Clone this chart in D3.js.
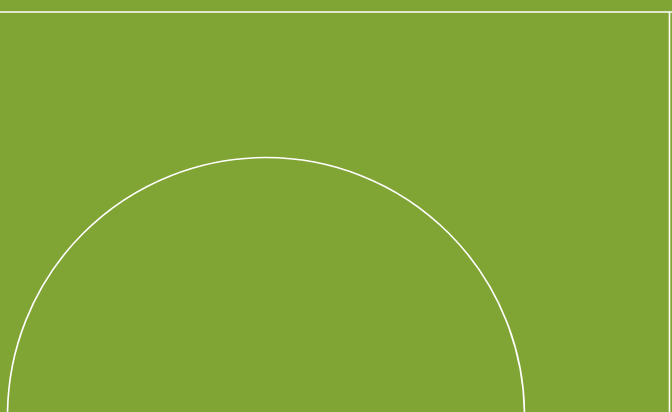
<!DOCTYPE html>
<html><head><meta charset="utf-8">
<script src="https://cdn.jsdelivr.net/npm/d3@7"></script>
<style>html,body{margin:0;padding:0;background:#81a535;overflow:hidden}</style>
</head><body>
<svg id="c" width="672" height="412"></svg>
<script>
// field extents (in field units)
const fieldX = [0, 672];
const fieldY = [0, 412];
// straight lines: [x1, y1, x2, y2]
const lineX1 = [0, 669.5];
const lineY1 = [12, 12];
const lineX2 = [672, 669.5];
const lineY2 = [12, 412];
// circle: centre and radius
const circleCx = [266];
const circleCy = [416];
const circleR = [258.5];

const W = 672, H = 412;
const x = d3.scaleLinear().domain(fieldX).range([0, W]);
const y = d3.scaleLinear().domain(fieldY).range([0, H]);
const svg = d3.select("#c");
svg.append("rect").attr("width", W).attr("height", H).attr("fill", "#81a535");

const lines = lineX1.map((d, i) => ({x1: d, y1: lineY1[i], x2: lineX2[i], y2: lineY2[i]}));
svg.selectAll("line.l").data(lines).join("line").attr("class", "l")
  .attr("x1", d => x(d.x1)).attr("y1", d => y(d.y1))
  .attr("x2", d => x(d.x2)).attr("y2", d => y(d.y2))
  .attr("stroke", "#fff").attr("stroke-width", 1.6);

const circles = circleCx.map((d, i) => ({cx: d, cy: circleCy[i], r: circleR[i]}));
svg.selectAll("circle.c").data(circles).join("circle").attr("class", "c")
  .attr("cx", d => x(d.cx)).attr("cy", d => y(d.cy))
  .attr("r", d => x(d.r) - x(0))
  .attr("fill", "none").attr("stroke", "#fff").attr("stroke-width", 1.6);
</script>
</body></html>
